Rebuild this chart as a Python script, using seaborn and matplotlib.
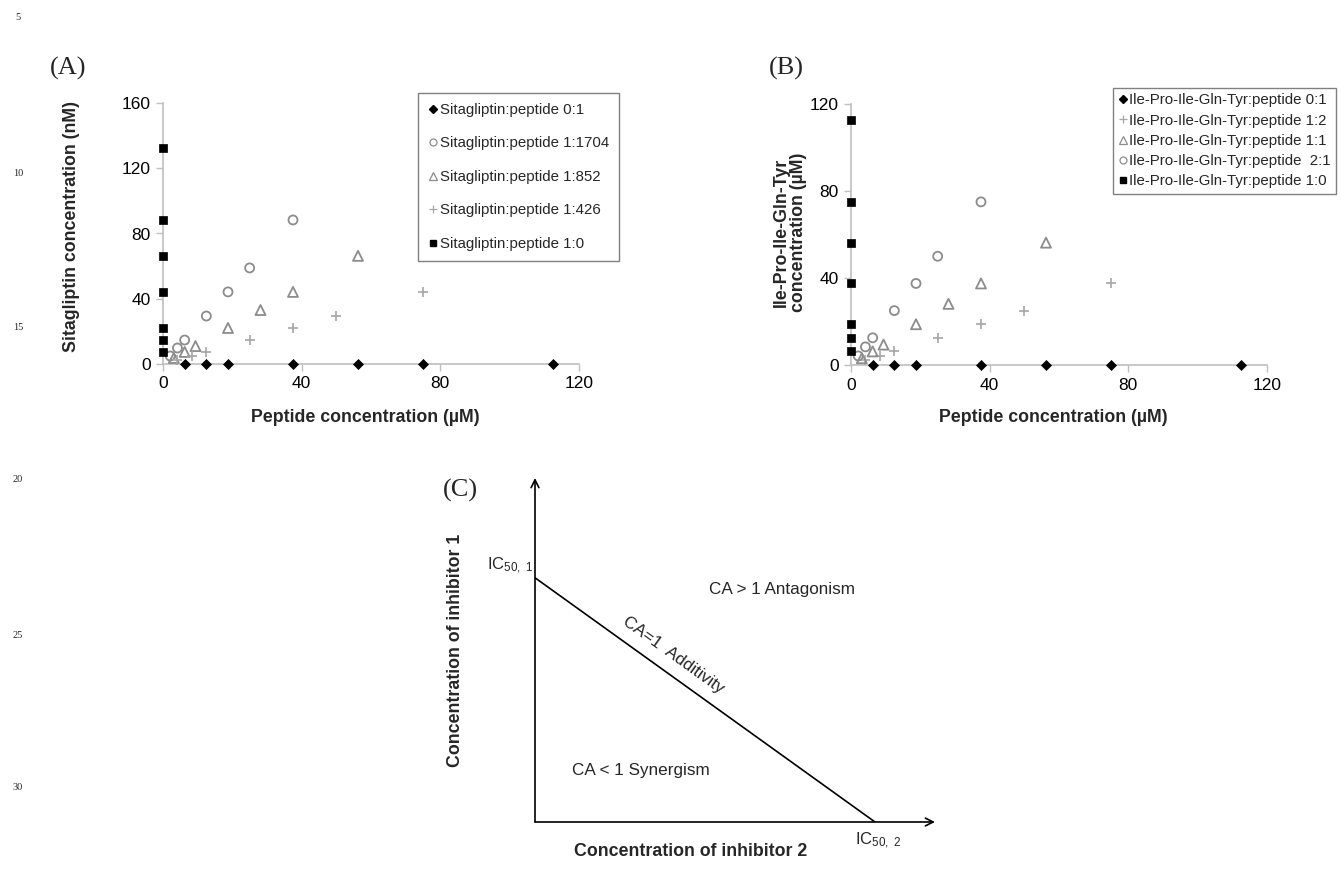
import numpy as np
import pandas as pd
import matplotlib
matplotlib.use("Agg")
import matplotlib.pyplot as plt
from matplotlib.lines import Line2D
import seaborn as sns

# ---------------- data ----------------
# Panel A : Sitagliptin (nM) vs peptide (uM)
a_x_01 = [6.25, 12.5, 18.75, 37.5, 56.25, 75, 112.5]
a_y_01 = [0, 0, 0, 0, 0, 0, 0]
a_x_1704 = [2.08, 4.17, 6.25, 12.5, 18.75, 25, 37.5]
a_y_1704 = [4.9, 9.8, 14.7, 29.4, 44.2, 58.9, 88.3]
a_x_852 = [3.125, 6.25, 9.375, 18.75, 28.125, 37.5, 56.25]
a_y_852 = [3.7, 7.4, 11.0, 22.1, 33.1, 44.2, 66.3]
a_x_426 = [4.17, 8.33, 12.5, 25, 37.5, 50, 75]
a_y_426 = [2.5, 4.9, 7.4, 14.7, 22.1, 29.4, 44.2]
a_x_10 = [0, 0, 0, 0, 0, 0, 0]
a_y_10 = [7.4, 14.7, 22.1, 44.2, 66.3, 88.3, 132.5]

# Panel B : Ile-Pro-Ile-Gln-Tyr (uM) vs peptide (uM)
b_x_01 = [6.25, 12.5, 18.75, 37.5, 56.25, 75, 112.5]
b_y_01 = [0, 0, 0, 0, 0, 0, 0]
b_x_12 = [4.17, 8.33, 12.5, 25, 37.5, 50, 75]
b_y_12 = [2.08, 4.17, 6.25, 12.5, 18.75, 25, 37.5]
b_x_11 = [3.125, 6.25, 9.375, 18.75, 28.125, 37.5, 56.25]
b_y_11 = [3.125, 6.25, 9.375, 18.75, 28.125, 37.5, 56.25]
b_x_21 = [2.08, 4.17, 6.25, 12.5, 18.75, 25, 37.5]
b_y_21 = [4.17, 8.33, 12.5, 25, 37.5, 50, 75]
b_x_10 = [0, 0, 0, 0, 0, 0, 0]
b_y_10 = [6.25, 12.5, 18.75, 37.5, 56.25, 75, 112.5]

a_labels = ["Sitagliptin:peptide 0:1", "Sitagliptin:peptide 1:1704",
            "Sitagliptin:peptide 1:852", "Sitagliptin:peptide 1:426",
            "Sitagliptin:peptide 1:0"]
b_labels = ["Ile-Pro-Ile-Gln-Tyr:peptide 0:1", "Ile-Pro-Ile-Gln-Tyr:peptide 1:2",
            "Ile-Pro-Ile-Gln-Tyr:peptide 1:1", "Ile-Pro-Ile-Gln-Tyr:peptide  2:1",
            "Ile-Pro-Ile-Gln-Tyr:peptide 1:0"]

x_ticks = [0, 40, 80, 120]
a_y_ticks = [0, 40, 80, 120, 160]
b_y_ticks = [0, 40, 80, 120]

# Panel C : isobologram schematic
c_line_x = [0.0, 0.85]
c_line_y = [0.71, 0.0]

line_numbers = ["5", "10", "15", "20", "25", "30"]
line_number_y = [17, 173, 327, 480, 635, 787]

# ---------------- style ----------------
sns.set_style("white")
plt.rcParams["font.family"] = ["Liberation Sans", "DejaVu Sans"]
plt.rcParams["mathtext.fontset"] = "custom"
plt.rcParams["mathtext.rm"] = "Liberation Sans"
plt.rcParams["mathtext.it"] = "Liberation Sans:italic"
plt.rcParams["mathtext.bf"] = "Liberation Sans:bold"

W, H = 1341, 875
fig = plt.figure(figsize=(W / 100, H / 100), dpi=100)

def fx(px):
    return px / W

def fy(py):
    return 1 - py / H

BLACK = "#000000"
GRAY_O = "#8c8c8c"
GRAY_P = "#a6a6a6"
SPINE = "#bfbfbf"

def style_axes(ax, yticks, ymax):
    ax.set_xlim(0, 120)
    ax.set_ylim(0, ymax)
    ax.set_xticks(x_ticks)
    ax.set_yticks(yticks)
    for s in ["top", "right"]:
        ax.spines[s].set_visible(False)
    for s in ["left", "bottom"]:
        ax.spines[s].set_color(SPINE)
        ax.spines[s].set_linewidth(1.2)
        ax.spines[s].set_zorder(1)
    ax.tick_params(axis="both", direction="out", length=5, width=1.0,
                   color=SPINE, labelsize=12.5, labelcolor="#000000", pad=4)
    ax.tick_params(left=True, bottom=True)
    ax.set_facecolor("none")

def draw_series(ax, x, y, kind, label):
    df = pd.DataFrame({"x": x, "y": y})
    if kind == "diamond":
        sns.scatterplot(data=df, x="x", y="y", ax=ax, marker="D", s=26,
                        color=BLACK, edgecolor=BLACK, linewidth=0.5, label=label)
    elif kind == "square":
        sns.scatterplot(data=df, x="x", y="y", ax=ax, marker="s", s=32,
                        color=BLACK, edgecolor=BLACK, linewidth=0.5, label=label)
    elif kind == "circle":
        sns.scatterplot(data=df, x="x", y="y", ax=ax, marker="o", s=42,
                        facecolor="none", edgecolor=GRAY_O, linewidth=1.3, label=label)
    elif kind == "triangle":
        sns.scatterplot(data=df, x="x", y="y", ax=ax, marker="^", s=52,
                        facecolor="none", edgecolor=GRAY_O, linewidth=1.3, label=label)
    elif kind == "plus":
        sns.scatterplot(data=df, x="x", y="y", ax=ax, marker="+", s=55,
                        color=GRAY_P, linewidth=1.2, label=label)
    for c in ax.collections:
        c.set_clip_on(False)
        c.set_zorder(4)

def legend_handle(kind):
    if kind == "diamond":
        return Line2D([], [], ls="none", marker="D", ms=4, mfc=BLACK, mec=BLACK)
    if kind == "square":
        return Line2D([], [], ls="none", marker="s", ms=4.5, mfc=BLACK, mec=BLACK)
    if kind == "circle":
        return Line2D([], [], ls="none", marker="o", ms=5, mfc="none", mec=GRAY_O, mew=0.9)
    if kind == "triangle":
        return Line2D([], [], ls="none", marker="^", ms=5.5, mfc="none", mec=GRAY_O, mew=0.9)
    return Line2D([], [], ls="none", marker="+", ms=6, mec=GRAY_P, mew=0.9)

# ---------------- Panel A ----------------
axA = fig.add_axes([fx(163), fy(364), fx(579) - fx(163), fy(103) - fy(364)])
a_kinds = ["diamond", "circle", "triangle", "plus", "square"]
a_data = [(a_x_01, a_y_01), (a_x_1704, a_y_1704), (a_x_852, a_y_852),
          (a_x_426, a_y_426), (a_x_10, a_y_10)]
for (x, y), k, lab in zip(a_data, a_kinds, a_labels):
    draw_series(axA, x, y, k, lab)
style_axes(axA, a_y_ticks, 160)
axA.set_xlabel("")
axA.set_ylabel("")
if axA.get_legend():
    axA.get_legend().remove()
legA = fig.legend([legend_handle(k) for k in a_kinds], a_labels,
                  loc="upper left", bbox_to_anchor=(fx(418), fy(93)),
                  fontsize=10.8, frameon=True, fancybox=False, framealpha=1,
                  edgecolor="#808080", handlelength=0.7, handletextpad=0.12,
                  labelspacing=1.3, borderpad=0.65, borderaxespad=0)
legA.get_frame().set_linewidth(1.0)
fig.text(fx(365), fy(417), "Peptide concentration (µM)", ha="center", va="center",
         fontsize=12.8, fontweight="bold")
fig.text(fx(72), fy(227), "Sitagliptin concentration (nM)", ha="center", va="center",
         rotation=90, fontsize=12.8, fontweight="bold")
fig.text(fx(68), fy(68), "(A)", ha="center", va="center", fontsize=19,
         family=["Liberation Serif", "DejaVu Serif"])

# ---------------- Panel B ----------------
axB = fig.add_axes([fx(851), fy(365), fx(1267) - fx(851), fy(104) - fy(365)])
b_kinds = ["diamond", "plus", "triangle", "circle", "square"]
b_data = [(b_x_01, b_y_01), (b_x_12, b_y_12), (b_x_11, b_y_11),
          (b_x_21, b_y_21), (b_x_10, b_y_10)]
for (x, y), k, lab in zip(b_data, b_kinds, b_labels):
    draw_series(axB, x, y, k, lab)
style_axes(axB, b_y_ticks, 120)
axB.set_xlabel("")
axB.set_ylabel("")
if axB.get_legend():
    axB.get_legend().remove()
legB = fig.legend([legend_handle(k) for k in b_kinds], b_labels,
                  loc="upper left", bbox_to_anchor=(fx(1113), fy(88)),
                  fontsize=10.8, frameon=True, fancybox=False, framealpha=1,
                  edgecolor="#808080", handlelength=0.6, handletextpad=0.12,
                  labelspacing=0.42, borderpad=0.35, borderaxespad=0)
legB.get_frame().set_linewidth(1.0)
fig.text(fx(1053), fy(417), "Peptide concentration (µM)", ha="center", va="center",
         fontsize=12.8, fontweight="bold")
fig.text(fx(790), fy(232), "Ile-Pro-Ile-Gln-Tyr\nconcentration (µM)", ha="center",
         va="center", rotation=90, fontsize=12.8, fontweight="bold", linespacing=1.0)
fig.text(fx(786), fy(68), "(B)", ha="center", va="center", fontsize=19,
         family=["Liberation Serif", "DejaVu Serif"])

# ---------------- Panel C ----------------
axC = fig.add_axes([fx(535), fy(822), fx(935) - fx(535), fy(478) - fy(822)])
axC.set_xlim(0, 1)
axC.set_ylim(0, 1)
axC.axis("off")
sns.lineplot(x=c_line_x, y=c_line_y, ax=axC, color="black", linewidth=1.2)
axC.annotate("", xy=(0, 1), xytext=(0, 0),
             arrowprops=dict(arrowstyle="->", color="black", lw=1.2,
                             shrinkA=0, shrinkB=0, mutation_scale=14))
axC.annotate("", xy=(1, 0), xytext=(0, 0),
             arrowprops=dict(arrowstyle="->", color="black", lw=1.2,
                             shrinkA=0, shrinkB=0, mutation_scale=14))
axC.text(-0.005, c_line_y[0] + 0.005, r"IC$_{50,\ 1}$", ha="right", va="bottom", fontsize=12)
axC.text(c_line_x[1] - 0.05, -0.025, r"IC$_{50,\ 2}$", ha="left", va="top", fontsize=12)
axC.text(0.435, 0.675, "CA > 1 Antagonism", ha="left", va="center", fontsize=12.3)
axC.text(0.092, 0.15, "CA < 1 Synergism", ha="left", va="center", fontsize=12.3)
# rotated label along the additivity line
p0 = axC.transData.transform((c_line_x[0], c_line_y[0]))
p1 = axC.transData.transform((c_line_x[1], c_line_y[1]))
ang = np.degrees(np.arctan2(p1[1] - p0[1], p1[0] - p0[0]))
axC.text(0.345, 0.485, "CA=1  Additivity", ha="center", va="center", fontsize=12.3,
         rotation=ang, rotation_mode="anchor")
fig.text(fx(455), fy(650), "Concentration of inhibitor 1", ha="center", va="center",
         rotation=90, fontsize=12.8, fontweight="bold")
fig.text(fx(691), fy(852), "Concentration of inhibitor 2", ha="center", va="center",
         fontsize=12.8, fontweight="bold")
fig.text(fx(460), fy(490), "(C)", ha="center", va="center", fontsize=19,
         family=["Liberation Serif", "DejaVu Serif"])

# ---------------- page line numbers ----------------
for t, yy in zip(line_numbers, line_number_y):
    fig.text(fx(18), fy(yy), t, ha="center", va="center", fontsize=7.5,
             family=["Liberation Serif", "DejaVu Serif"])

fig.savefig("out.png", dpi=100, facecolor="white")
